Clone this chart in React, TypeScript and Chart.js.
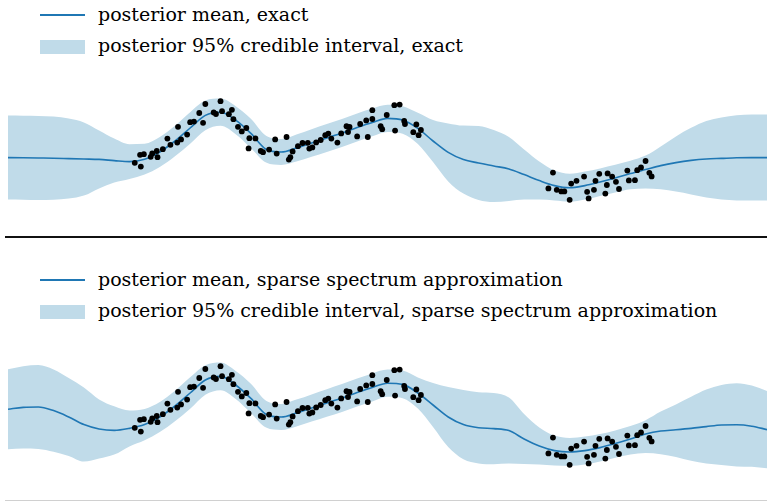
import React, { useEffect, useLayoutEffect, useRef } from "react";
import { Chart, registerables } from "chart.js";

Chart.register(...registerables);

// x grid on which the posterior curves are sampled
const gridX = [
  0, 0.2, 0.4, 0.6, 0.8, 1.0, 1.2, 1.4, 1.6, 1.8,
  2.0, 2.2, 2.4, 2.6, 2.8, 3.0, 3.2, 3.4, 3.6, 3.8,
  4.0, 4.2, 4.4, 4.6, 4.8, 5.0, 5.2, 5.4, 5.6, 5.8,
  6.0, 6.2, 6.4, 6.6, 6.8, 7.0, 7.2, 7.4, 7.6, 7.8,
  8.0, 8.2, 8.4, 8.6, 8.8, 9.0, 9.2, 9.4, 9.6, 9.8, 10.0,
];

// exact GP posterior
const exactMean = [
  0.02, 0.01, 0, -0.01, -0.03, -0.05, -0.07, -0.13, -0.18, -0.06,
  0.3, 0.85, 1.5, 2.13, 2.29, 1.89, 1.23, 0.44, 0.3, 0.5,
  0.75, 1.0, 1.25, 1.53, 1.78, 1.98, 1.9, 1.48, 0.85, 0.28,
  -0.08, -0.25, -0.4, -0.55, -0.83, -1.13, -1.38, -1.49, -1.38, -1.2,
  -1.0, -0.78, -0.58, -0.38, -0.23, -0.12, -0.05, -0.02, 0.01, 0.02, 0.02,
];
const exactUpper = [
  2.12, 2.11, 2.1, 2.07, 1.97, 1.78, 1.38, 0.97, 0.69, 0.71,
  1.05, 1.61, 2.29, 2.87, 2.97, 2.59, 1.96, 1.11, 0.95, 1.18,
  1.44, 1.7, 1.95, 2.23, 2.47, 2.66, 2.59, 2.26, 1.9, 1.73,
  1.62, 1.6, 1.4, 1.05, 0.42, -0.18, -0.63, -0.79, -0.68, -0.52,
  -0.34, -0.14, 0.12, 0.58, 1.08, 1.51, 1.85, 2.03, 2.14, 2.17, 2.17,
];
const exactLower = [
  -2.08, -2.09, -2.1, -2.09, -2.03, -1.88, -1.52, -1.23, -1.05, -0.83,
  -0.45, 0.09, 0.71, 1.39, 1.61, 1.19, 0.5, -0.23, -0.35, -0.18,
  0.06, 0.3, 0.55, 0.83, 1.09, 1.3, 1.21, 0.7, -0.2, -1.17,
  -1.78, -2.1, -2.2, -2.15, -2.08, -2.08, -2.13, -2.19, -2.08, -1.9,
  -1.72, -1.56, -1.52, -1.56, -1.68, -1.82, -1.97, -2.07, -2.12, -2.13, -2.13,
];

// sparse spectrum approximation posterior
const sparseMean = [
  0.69, 0.78, 0.8, 0.62, 0.3, -0.08, -0.3, -0.37, -0.27, -0.08,
  0.3, 0.85, 1.5, 2.15, 2.33, 1.9, 1.23, 0.44, 0.3, 0.5,
  0.75, 1.0, 1.25, 1.53, 1.78, 1.99, 1.93, 1.5, 0.9, 0.3,
  -0.08, -0.24, -0.28, -0.38, -0.8, -1.15, -1.38, -1.45, -1.38, -1.23,
  -1.03, -0.8, -0.55, -0.4, -0.34, -0.27, -0.18, -0.1, -0.09, -0.16, -0.33,
];
const sparseUpper = [
  2.69, 2.84, 2.9, 2.68, 2.25, 1.77, 1.18, 0.84, 0.63, 0.7,
  1.05, 1.61, 2.29, 2.89, 3.02, 2.6, 1.96, 1.11, 0.95, 1.17,
  1.43, 1.69, 1.95, 2.23, 2.48, 2.67, 2.62, 2.28, 2.0, 1.8,
  1.65, 1.54, 1.5, 1.27, 0.45, -0.22, -0.63, -0.75, -0.68, -0.55,
  -0.37, -0.15, 0.14, 0.57, 0.93, 1.31, 1.67, 1.9, 1.99, 1.87, 1.6,
];
const sparseLower = [
  -1.31, -1.28, -1.3, -1.44, -1.65, -1.93, -1.78, -1.58, -1.17, -0.86,
  -0.45, 0.09, 0.71, 1.41, 1.64, 1.2, 0.5, -0.23, -0.35, -0.17,
  0.07, 0.31, 0.55, 0.83, 1.08, 1.31, 1.24, 0.72, -0.2, -1.2,
  -1.81, -2.02, -2.06, -2.03, -2.05, -2.08, -2.13, -2.15, -2.08, -1.93,
  -1.74, -1.57, -1.5, -1.56, -1.7, -1.89, -2.03, -2.1, -2.17, -2.19, -2.26,
];

// observations (same in both panels)
const obsX = [
  1.67, 1.75, 1.74, 1.79, 1.88, 1.9, 1.96, 1.97, 2.04, 2.1,
  2.14, 2.23, 2.24, 2.28, 2.36, 2.4, 2.45, 2.52, 2.57, 2.6,
  2.71, 2.74, 2.8, 2.82, 2.91, 2.95, 2.97, 3.03, 3.08, 3.14,
  3.17, 3.18, 3.26, 3.33, 3.36, 3.44, 3.52, 3.54, 3.67, 3.7,
  3.72, 3.75, 3.82, 3.88, 3.95, 3.97, 4.01, 4.06, 4.12, 4.18,
  4.22, 4.26, 4.34, 4.39, 4.46, 4.48, 4.5, 4.6, 4.64, 4.72,
  4.74, 4.8, 4.8, 4.91, 4.93, 4.99, 5.09, 5.16, 5.1, 5.22,
  5.23, 5.34, 5.38, 5.41, 5.44,
  7.12, 7.18, 7.23, 7.29, 7.33, 7.4, 7.42, 7.49, 7.59, 7.63,
  7.65, 7.72, 7.74, 7.79, 7.87, 7.89, 7.9, 7.96, 8.01, 8.05,
  8.16, 8.18, 8.26, 8.29, 8.34, 8.4, 8.45, 8.48,
];
const obsY = [
  -0.24, -0.43, 0.16, 0.19, 0.06, 0.23, 0.35, 0.04, 0.44, 0.97,
  0.66, 0.77, 1.56, 0.93, 1.17, 1.79, 1.82, 2.25, 1.76, 2.7,
  2.28, 2.2, 2.84, 2.34, 2.19, 2.41, 1.94, 1.56, 1.33, 1.5,
  0.48, 0.99, 0.98, 0.35, 0.29, 0.42, 0.93, 0.22, 1.05, -0.08,
  0.04, 0.33, 0.59, 0.75, 0.76, 0.47, 0.53, 0.78, 0.9, 1.14,
  1.22, 0.97, 0.77, 1.23, 1.59, 1.3, 1.55, 1.08, 1.7, 1.88,
  1.05, 1.95, 2.39, 1.59, 1.44, 2.15, 2.64, 2.67, 1.37, 1.85,
  1.7, 1.29, 1.68, 1.14, 1.4,
  -1.52, -0.73, -1.59, -1.67, -1.67, -2.09, -1.28, -1.14, -0.93, -1.69,
  -2.02, -1.59, -1.14, -0.79, -1.78, -1.35, -0.77, -0.93, -1.19, -1.55,
  -0.63, -1.12, -1.11, -0.61, -0.47, -0.15, -0.74, -0.92,
];

const exactLabels = ["posterior mean, exact", "posterior 95% credible interval, exact"];
const sparseLabels = [
  "posterior mean, sparse spectrum approximation",
  "posterior 95% credible interval, sparse spectrum approximation",
];

const X_MIN = 0;
const X_MAX = 10;
const Y_MIN = -3.5;
const Y_MAX = 4.5;

const LINE_COLOR = "#1f77b4";
const BAND_COLOR = "rgb(192, 219, 233)";
const FONT = '"DejaVu Serif", serif';

type PanelProps = {
  top: number;
  mean: number[];
  upper: number[];
  lower: number[];
  labels: string[];
};

function GPPanel({ top, mean, upper, lower, labels }: PanelProps) {
  const ref = useRef<HTMLCanvasElement | null>(null);

  useEffect(() => {
    if (!ref.current) return;
    const pts = (ys: number[]) => gridX.map((x, i) => ({ x, y: ys[i] }));
    const chart = new Chart(ref.current, {
      type: "line",
      data: {
        datasets: [
          {
            label: "observations",
            data: obsX.map((x, i) => ({ x, y: obsY[i] })),
            showLine: false,
            pointRadius: 2.9,
            pointBorderWidth: 0,
            pointBackgroundColor: "#000",
            backgroundColor: "#000",
            borderColor: "#000",
            order: 0,
          },
          {
            label: labels[0],
            data: pts(mean),
            borderColor: LINE_COLOR,
            borderWidth: 1.6,
            pointRadius: 0,
            fill: false,
            cubicInterpolationMode: "monotone",
            order: 1,
          },
          {
            label: labels[1],
            data: pts(upper),
            borderColor: "rgba(0,0,0,0)",
            borderWidth: 0,
            backgroundColor: BAND_COLOR,
            pointRadius: 0,
            fill: "+1",
            cubicInterpolationMode: "monotone",
            order: 2,
          },
          {
            label: "lower bound",
            data: pts(lower),
            borderColor: "rgba(0,0,0,0)",
            borderWidth: 0,
            pointRadius: 0,
            fill: false,
            cubicInterpolationMode: "monotone",
            order: 3,
          },
        ],
      },
      options: {
        responsive: false,
        animation: false,
        devicePixelRatio: 1,
        events: [],
        layout: { padding: 0, autoPadding: false },
        plugins: { legend: { display: false }, tooltip: { enabled: false } },
        scales: {
          x: { type: "linear", min: X_MIN, max: X_MAX, display: false },
          y: { type: "linear", min: Y_MIN, max: Y_MAX, display: false },
        },
      },
    });
    return () => chart.destroy();
  }, [mean, upper, lower, labels]);

  const textStyle: React.CSSProperties = {
    position: "absolute",
    left: 98,
    fontFamily: FONT,
    fontSize: 19,
    lineHeight: "20px",
    color: "#000",
    whiteSpace: "nowrap",
  };

  return (
    <>
      <div
        style={{
          position: "absolute",
          left: 40,
          top: top + 14,
          width: 45,
          height: 1.5,
          background: LINE_COLOR,
        }}
      />
      <div style={{ ...textStyle, top: top + 4 }}>{labels[0]}</div>
      <div
        style={{
          position: "absolute",
          left: 40,
          top: top + 40,
          width: 45,
          height: 14,
          background: BAND_COLOR,
        }}
      />
      <div style={{ ...textStyle, top: top + 35 }}>{labels[1]}</div>
      <canvas
        ref={ref}
        width={759}
        height={160}
        style={{ position: "absolute", left: 8, top: top + 68, width: 759, height: 160 }}
      />
    </>
  );
}

export default function App() {
  useLayoutEffect(() => {
    document.documentElement.style.overflow = "hidden";
    document.body.style.margin = "0";
  }, []);

  return (
    <div style={{ position: "relative", width: 767, height: 502, overflow: "hidden", background: "#fff" }}>
      <GPPanel top={0} mean={exactMean} upper={exactUpper} lower={exactLower} labels={exactLabels} />
      <div
        style={{ position: "absolute", left: 5, top: 236, width: 762, height: 2, background: "#111" }}
      />
      <GPPanel top={265} mean={sparseMean} upper={sparseUpper} lower={sparseLower} labels={sparseLabels} />
      <div
        style={{ position: "absolute", left: 5, top: 500, width: 762, height: 1, background: "#d0d0d0" }}
      />
    </div>
  );
}
